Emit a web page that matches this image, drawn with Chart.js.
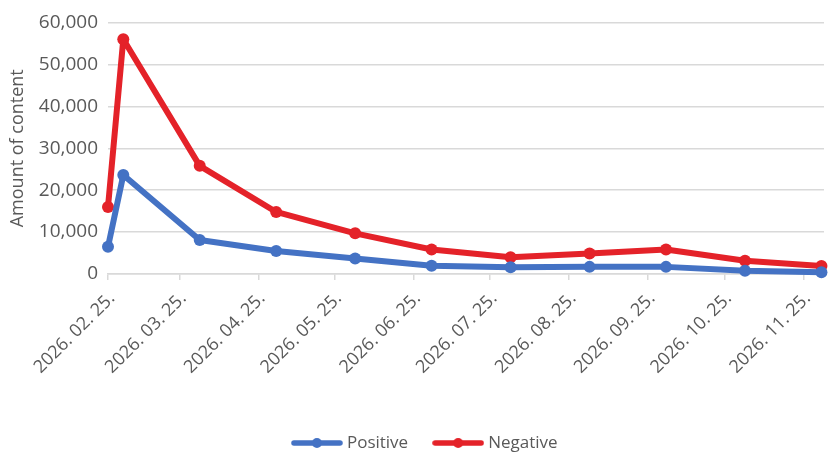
<!DOCTYPE html>
<html>
<head>
<meta charset="utf-8">
<script src="https://cdn.jsdelivr.net/npm/chart.js@4/dist/chart.umd.min.js"></script>
<style>
  html, body { margin: 0; padding: 0; background: #fff; }
  #wrap { width: 830px; height: 453px; position: relative; }
</style>
</head>
<body>
<div id="wrap"><canvas id="chart"></canvas></div>
<script>
// Sampling dates and content counts
const dates = ['2026. 02. 25.', '2026. 03. 03.', '2026. 04. 02.', '2026. 05. 02.', '2026. 06. 02.',
               '2026. 07. 02.', '2026. 08. 02.', '2026. 09. 02.', '2026. 10. 02.', '2026. 11. 02.', '2026. 12. 02.'];
const positive = [6500, 23600, 8100, 5500, 3700, 1950, 1600, 1700, 1700, 800, 400];
const negative = [16000, 56000, 25800, 14800, 9700, 5850, 4000, 4900, 5850, 3150, 1900];

// Date axis ticks (one per month) and the axis end
const tickLabels = ['2026. 02. 25.', '2026. 03. 25.', '2026. 04. 25.', '2026. 05. 25.', '2026. 06. 25.',
                    '2026. 07. 25.', '2026. 08. 25.', '2026. 09. 25.', '2026. 10. 25.', '2026. 11. 25.'];
const axisEnd = '2026. 12. 03.';
const yMax = 60000;
const yStep = 10000;

const BLUE = '#4472C4';
const RED = '#E42229';
const TEXT = '#595959';
const GRID = '#D9D9D9';
const FONT = '"Open Sans", "Noto Sans", sans-serif';

// "2026. 02. 25." -> day number
function toDay(s) {
  const [y, m, d] = s.split('.').map(t => parseInt(t, 10));
  return Date.UTC(y, m - 1, d) / 86400000;
}

// Legend swatch: short line with a dot in the middle
function swatch(color) {
  const c = document.createElement('canvas');
  c.width = 52; c.height = 14;
  const g = c.getContext('2d');
  g.strokeStyle = color; g.lineWidth = 5.5; g.lineCap = 'round';
  g.beginPath(); g.moveTo(3, 7); g.lineTo(49, 7); g.stroke();
  g.fillStyle = color;
  g.beginPath(); g.arc(26, 7, 5, 0, Math.PI * 2); g.fill();
  return c;
}

// Place the legend row near the bottom edge, slightly right of centre
const legendPlace = {
  id: 'legendPlace',
  afterLayout(chart) {
    const l = chart.legend;
    if (!l) return;
    const lab = l.options.labels;
    const top = 443 - lab.padding - lab.font.size / 2;
    l.top = top;
    l.bottom = chart.height + 20;
    l.height = l.bottom - l.top;
    l.left += 12; l.right += 12;
  }
};

function series(label, values, color) {
  return {
    label,
    data: dates.map((d, i) => ({ x: toDay(d), y: values[i] })),
    borderColor: color,
    backgroundColor: color,
    borderWidth: 6,
    pointRadius: 6,
    pointHoverRadius: 6,
    pointBorderWidth: 0,
    borderCapStyle: 'round',
    borderJoinStyle: 'round',
    tension: 0,
    clip: false
  };
}

new Chart(document.getElementById('chart'), {
  type: 'line',
  data: {
    datasets: [series('Positive', positive, BLUE), series('Negative', negative, RED)]
  },
  plugins: [legendPlace],
  options: {
    responsive: true,
    maintainAspectRatio: false,
    animation: false,
    layout: { padding: { top: 22.5, right: 1, left: 0, bottom: 0 } },
    scales: {
      x: {
        type: 'linear',
        min: toDay(tickLabels[0]),
        max: toDay(axisEnd),
        afterBuildTicks(scale) {
          scale.ticks = tickLabels.map(t => ({ value: toDay(t) }));
        },
        afterFit(scale) { scale.height = 149; },
        grid: { drawOnChartArea: false, drawTicks: true, tickLength: 6, color: GRID, lineWidth: 1.5 },
        border: { color: GRID, width: 1.5 },
        ticks: {
          autoSkip: false,
          minRotation: 45,
          maxRotation: 45,
          padding: 8,
          labelOffset: 4,
          color: TEXT,
          font: { family: FONT, size: 18 },
          callback: (v, i) => tickLabels[i]
        }
      },
      y: {
        min: 0,
        max: yMax,
        afterFit(scale) { scale.width = 108; },
        grid: { color: GRID, lineWidth: 1.5, drawTicks: false },
        border: { display: false },
        ticks: {
          stepSize: yStep,
          padding: 10,
          color: TEXT,
          font: { family: FONT, size: 19 },
          callback: v => v.toLocaleString('en-US')
        },
        title: {
          display: true,
          text: 'Amount of content',
          color: TEXT,
          font: { family: FONT, size: 18 },
          padding: { top: 7, bottom: 0 }
        }
      }
    },
    plugins: {
      tooltip: { enabled: false },
      legend: {
        position: 'bottom',
        maxHeight: 30,
        labels: {
          usePointStyle: true,
          pointStyleWidth: 43,
          padding: 28.5,
          color: TEXT,
          font: { family: FONT, size: 17 },
          generateLabels(chart) {
            return chart.data.datasets.map((ds, i) => ({
              text: ds.label,
              fillStyle: ds.borderColor,
              strokeStyle: ds.borderColor,
              fontColor: TEXT,
              lineWidth: 0,
              pointStyle: swatch(ds.borderColor),
              datasetIndex: i,
              hidden: false
            }));
          }
        }
      }
    }
  }
});
</script>
</body>
</html>
